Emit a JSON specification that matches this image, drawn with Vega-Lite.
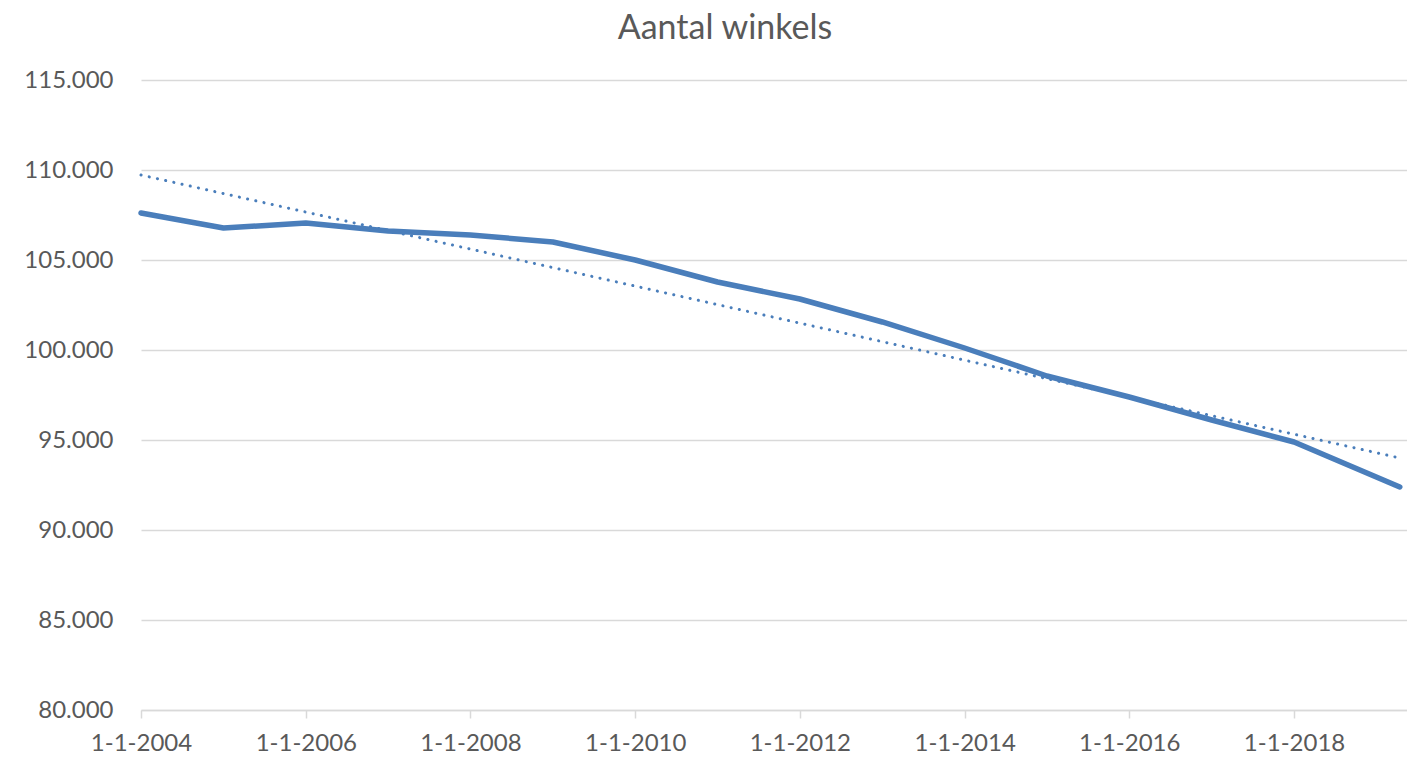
{
  "$schema": "https://vega.github.io/schema/vega-lite/v6.json",
  "width": 1266,
  "height": 630,
  "autosize": {"type": "none"},
  "padding": {"left": 141, "top": 80, "right": 0, "bottom": 50},
  "background": "white",
  "config": {
    "view": {"stroke": null},
    "font": "Lato"
  },
  "title": {
    "text": "Aantal winkels",
    "fontSize": 34,
    "font": "Lato",
    "fontWeight": "normal",
    "color": "#595959",
    "anchor": "middle",
    "dx": -49,
    "offset": 22
  },
  "datasets": {
    "main": [
      {"datum": "2004-01-01", "winkels": 107611},
      {"datum": "2005-01-01", "winkels": 106778},
      {"datum": "2006-01-01", "winkels": 107056},
      {"datum": "2007-01-01", "winkels": 106611},
      {"datum": "2008-01-01", "winkels": 106389},
      {"datum": "2009-01-01", "winkels": 106000},
      {"datum": "2010-01-01", "winkels": 105000},
      {"datum": "2011-01-01", "winkels": 103778},
      {"datum": "2012-01-01", "winkels": 102833},
      {"datum": "2013-01-01", "winkels": 101556},
      {"datum": "2014-01-01", "winkels": 100111},
      {"datum": "2015-01-01", "winkels": 98556},
      {"datum": "2016-01-01", "winkels": 97389},
      {"datum": "2017-01-01", "winkels": 96111},
      {"datum": "2018-01-01", "winkels": 94889},
      {"datum": "2019-04-15", "winkels": 92389}
    ],
    "trend": [
      {"datum": "2004-01-01", "winkels": 109722},
      {"datum": "2019-04-15", "winkels": 94000}
    ]
  },
  "encoding": {
    "x": {
      "field": "datum",
      "type": "temporal",
      "scale": {"type": "utc", "domain": ["2004-01-01", "2019-05-17"]},
      "axis": {
        "title": null,
        "values": [
          {"year": 2004, "month": 1, "date": 1, "utc": true},
          {"year": 2006, "month": 1, "date": 1, "utc": true},
          {"year": 2008, "month": 1, "date": 1, "utc": true},
          {"year": 2010, "month": 1, "date": 1, "utc": true},
          {"year": 2012, "month": 1, "date": 1, "utc": true},
          {"year": 2014, "month": 1, "date": 1, "utc": true},
          {"year": 2016, "month": 1, "date": 1, "utc": true},
          {"year": 2018, "month": 1, "date": 1, "utc": true}
        ],
        "labelExpr": "utcFormat(datum.value, '%-d-%-m-%Y')",
        "grid": false,
        "domainColor": "#d9d9d9",
        "domainWidth": 1.5,
        "tickColor": "#d9d9d9",
        "tickWidth": 1.5,
        "tickSize": 8,
        "labelFontSize": 24,
        "labelColor": "#595959",
        "labelPadding": 13,
        "labelFont": "Lato",
        "labelFlush": false,
        "labelBound": false,
        "labelOverlap": false
      }
    },
    "y": {
      "field": "winkels",
      "type": "quantitative",
      "scale": {"domain": [80000, 115000], "nice": false, "zero": false},
      "axis": {
        "title": null,
        "values": [80000, 85000, 90000, 95000, 100000, 105000, 110000, 115000],
        "labelExpr": "replace(format(datum.value, ',d'), ',', '.')",
        "domain": false,
        "ticks": false,
        "grid": true,
        "gridColor": "#d9d9d9",
        "gridWidth": 1.5,
        "labelFontSize": 24,
        "labelColor": "#595959",
        "labelPadding": 28,
        "labelFont": "Lato",
        "labelFlush": false
      }
    }
  },
  "layer": [
    {
      "data": {"name": "trend"},
      "mark": {"type": "line", "color": "#4a7ebb", "strokeWidth": 3, "strokeCap": "round", "strokeDash": [0.1, 8.3]}
    },
    {
      "data": {"name": "main"},
      "mark": {"type": "line", "color": "#4a7ebb", "strokeWidth": 5.5, "strokeCap": "round", "strokeJoin": "round"}
    }
  ]
}
